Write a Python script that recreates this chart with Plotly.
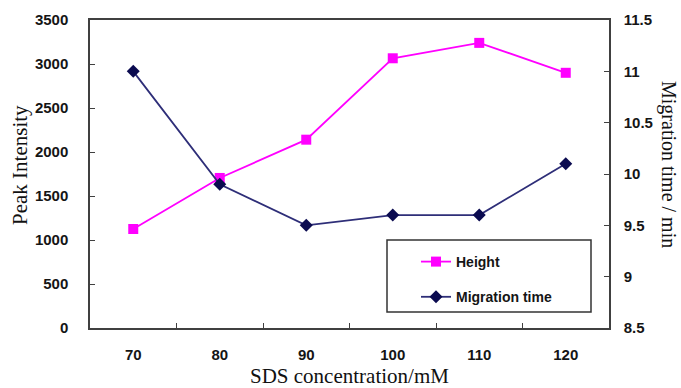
import plotly.graph_objects as go

categories = ["70", "80", "90", "100", "110", "120"]
height = [1125, 1705, 2140, 3065, 3240, 2900]
migration_time = [11.0, 9.9, 9.5, 9.6, 9.6, 10.1]

left_ticks = [0, 500, 1000, 1500, 2000, 2500, 3000, 3500]
right_ticks = [8.5, 9, 9.5, 10, 10.5, 11, 11.5]

SANS = "Liberation Sans, Arial, sans-serif"
SERIF = "Liberation Serif, Times New Roman, serif"
AXC = "#404040"
TICKFONT = dict(family=SANS, size=15, color="#151515", weight="bold")

fig = go.Figure()
fig.add_trace(go.Scatter(
    x=categories, y=height, name="Height", mode="lines+markers",
    line=dict(color="#FF00FF", width=1.8),
    marker=dict(symbol="square", size=10, color="#FF00FF"),
    legendgroup="a", yaxis="y",
))
fig.add_trace(go.Scatter(
    x=categories, y=migration_time, name="Migration time", mode="lines+markers",
    line=dict(color="#2E2E78", width=1.8),
    marker=dict(symbol="diamond", size=10, color="#0B0B50"),
    legendgroup="b", yaxis="y2",
))

fig.update_layout(
    width=681, height=388,
    margin=dict(l=90, r=72, t=20, b=60),
    paper_bgcolor="white", plot_bgcolor="white",
    font=dict(family=SANS, size=15, color="#111"),
    showlegend=True,
    legend=dict(
        x=(416 - 90) / 519, y=(328 - 246) / 308, xanchor="left", yanchor="top",
        bgcolor="rgba(0,0,0,0)", borderwidth=0,
        font=dict(family=SANS, size=14, color="#151515", weight="bold"),
        traceorder="grouped", tracegroupgap=14,
    ),
    xaxis=dict(
        type="category", range=[-0.5, 5.5],
        showline=True, linecolor=AXC, linewidth=1.5, mirror=True,
        ticks="inside", tickson="boundaries", ticklen=5, tickcolor=AXC,
        showgrid=False, zeroline=False,
        tickfont=TICKFONT, ticklabelstandoff=12,
    ),
    yaxis=dict(
        range=[0, 3500], tickvals=left_ticks, tickformat="d",
        showline=True, linecolor=AXC, linewidth=1.5,
        ticks="inside", ticklen=5, tickcolor=AXC,
        showgrid=False, zeroline=False,
        tickfont=TICKFONT, ticklabelstandoff=17,
    ),
    yaxis2=dict(
        range=[8.5, 11.5], tickvals=right_ticks, overlaying="y", side="right",
        showline=True, linecolor=AXC, linewidth=1.5,
        ticks="inside", ticklen=5, tickcolor=AXC,
        showgrid=False, zeroline=False,
        tickfont=TICKFONT, ticklabelstandoff=10,
    ),
    shapes=[dict(
        type="rect", xref="paper", yref="paper",
        x0=(387 - 90) / 519, x1=(591 - 90) / 519,
        y0=(328 - 312) / 308, y1=(328 - 240) / 308,
        line=dict(color="#333", width=1.5), fillcolor="rgba(0,0,0,0)",
    )],
    annotations=[
        dict(text="Peak Intensity", xref="paper", yref="paper",
             x=(20 - 90) / 519, y=(328 - 165) / 308, textangle=-90,
             showarrow=False, xanchor="center", yanchor="middle",
             font=dict(family=SERIF, size=21, color="#111")),
        dict(text="SDS concentration/mM", xref="paper", yref="paper",
             x=(349 - 90) / 519, y=(328 - 376) / 308,
             showarrow=False, xanchor="center", yanchor="middle",
             font=dict(family=SERIF, size=21, color="#111")),
        dict(text="Migration time / min", xref="paper", yref="paper",
             x=(669 - 90) / 519, y=(328 - 164) / 308, textangle=90,
             showarrow=False, xanchor="center", yanchor="middle",
             font=dict(family=SERIF, size=20, color="#111")),
    ],
)

fig.write_html("out.html")
